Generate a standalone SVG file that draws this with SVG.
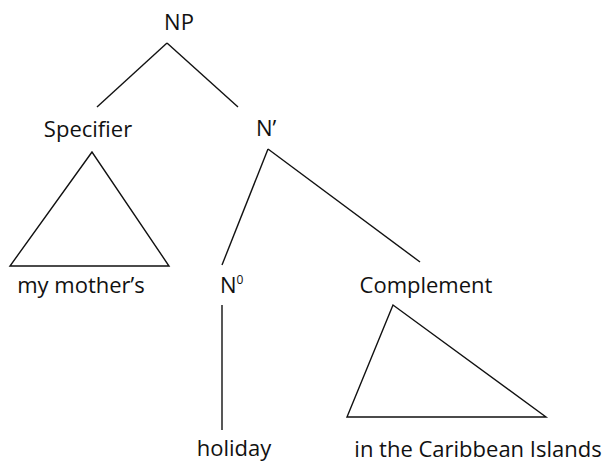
<svg xmlns="http://www.w3.org/2000/svg" width="603" height="462" viewBox="0 0 603 462">
  <style>
    .lbl { font-family: "Open Sans", "Liberation Sans", sans-serif; font-size: 22px; fill: #111; }
    .mid { text-anchor: middle; }
    .edge { stroke: #111; stroke-width: 1.4; fill: none; stroke-linejoin: miter; }
  </style>
  <rect width="603" height="462" fill="#fff"/>

  <!-- tree branches and constituent triangles -->
  <g id="connectors">
    <line class="edge" x1="167" y1="43" x2="97" y2="107"/>
    <line class="edge" x1="167" y1="43" x2="238" y2="107"/>
    <polygon class="edge" points="92,152 10,266 169,266"/>
    <line class="edge" x1="268" y1="149" x2="222" y2="265"/>
    <line class="edge" x1="268" y1="149" x2="420" y2="262"/>
    <line class="edge" x1="222" y1="305" x2="222" y2="430"/>
    <polygon class="edge" points="393,305 347,417 546,417"/>
  </g>

  <g id="np"><text class="lbl mid" x="179" y="30">NP</text></g>
  <g id="specifier"><text class="lbl mid" x="88" y="137">Specifier</text></g>
  <g id="n-bar"><text class="lbl" x="256" y="136">N’</text></g>
  <g id="my-mothers"><text class="lbl mid" x="81" y="293">my mother’s</text></g>
  <g id="n-zero"><text class="lbl" x="220" y="293">N<tspan font-size="12" dy="-9">0</tspan></text></g>
  <g id="complement"><text class="lbl mid" x="426" y="293">Complement</text></g>
  <g id="holiday"><text class="lbl mid" x="234" y="456">holiday</text></g>
  <g id="caribbean"><text class="lbl mid" x="478" y="457">in the Caribbean Islands</text></g>
</svg>
